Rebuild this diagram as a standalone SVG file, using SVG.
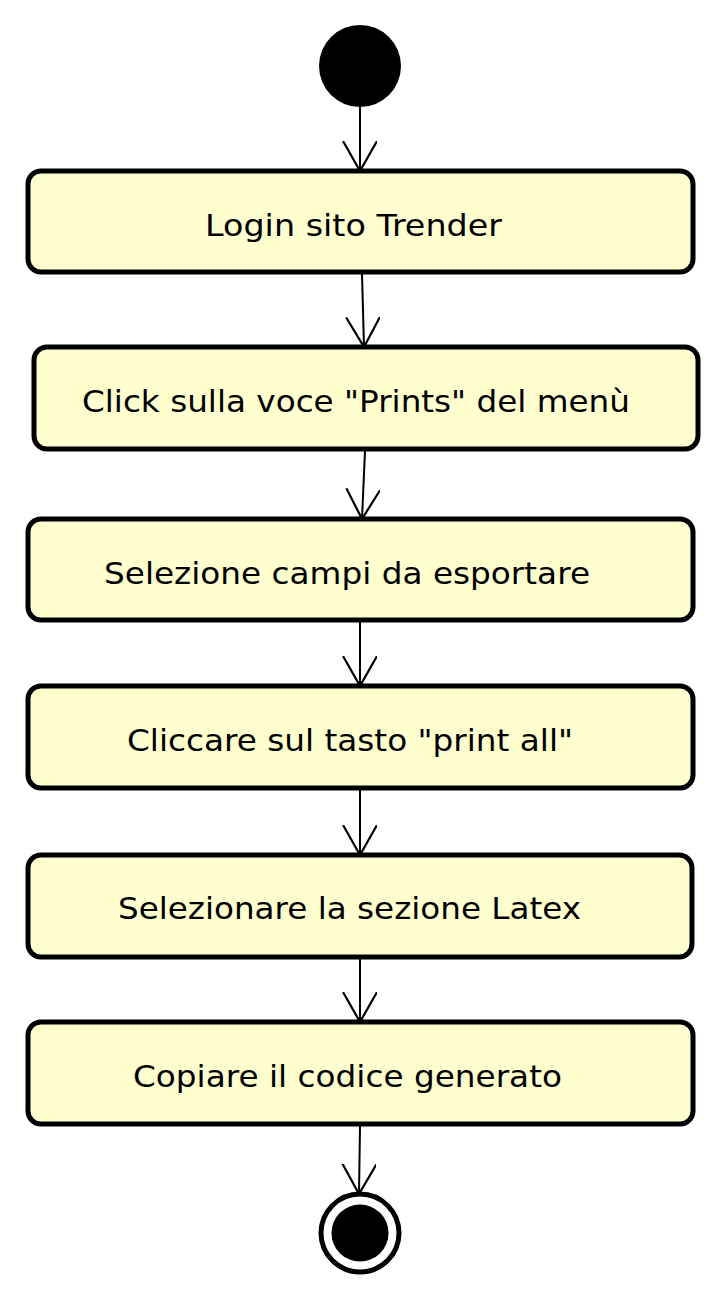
<svg xmlns="http://www.w3.org/2000/svg" width="727" height="1300" viewBox="0 0 727 1300">
<defs>
<style>
.box{fill:#FEFECE;stroke:#000;stroke-width:5}
.t{font-family:"DejaVu Sans",sans-serif;font-size:31px;fill:#000}
.c{stroke:#000;stroke-width:2;fill:none}
</style>
<marker id="ar" viewBox="0 0 40 40" refX="30" refY="17" markerWidth="40" markerHeight="40" markerUnits="userSpaceOnUse" orient="auto">
<path d="M0,0 L30,17 L0,34" fill="none" stroke="#000" stroke-width="2.2"/>
</marker>
</defs>
<rect width="727" height="1300" fill="#fff"/>
<g id="start"><circle cx="360" cy="66" r="41" fill="#000"/></g>
<g id="n1"><rect class="box" x="28" y="171" width="665" height="101" rx="13"/><text class="t" x="205" y="236" textLength="297" lengthAdjust="spacingAndGlyphs">Login sito Trender</text></g>
<g id="n2"><rect class="box" x="34" y="347" width="664" height="102" rx="13"/><text class="t" x="82" y="412" textLength="548" lengthAdjust="spacingAndGlyphs">Click sulla voce "Prints" del menù</text></g>
<g id="n3"><rect class="box" x="28" y="519" width="665" height="101" rx="13"/><text class="t" x="104" y="584" textLength="486" lengthAdjust="spacingAndGlyphs">Selezione campi da esportare</text></g>
<g id="n4"><rect class="box" x="28" y="686" width="665" height="102" rx="13"/><text class="t" x="127" y="751" textLength="446" lengthAdjust="spacingAndGlyphs">Cliccare sul tasto "print all"</text></g>
<g id="n5"><rect class="box" x="28" y="855" width="664" height="102" rx="13"/><text class="t" x="118" y="919" textLength="463" lengthAdjust="spacingAndGlyphs">Selezionare la sezione Latex</text></g>
<g id="n6"><rect class="box" x="28" y="1022" width="665" height="102" rx="13"/><text class="t" x="133" y="1087" textLength="429" lengthAdjust="spacingAndGlyphs">Copiare il codice generato</text></g>
<g id="end"><circle cx="360" cy="1233" r="39" fill="#fff" stroke="#000" stroke-width="5"/><circle cx="360" cy="1233" r="28.5" fill="#000"/></g>
<g id="connectors">
<line class="c" x1="360" y1="107" x2="360" y2="171" marker-end="url(#ar)"/>
<line class="c" x1="362" y1="274" x2="364" y2="347" marker-end="url(#ar)"/>
<line class="c" x1="365" y1="451" x2="362" y2="519" marker-end="url(#ar)"/>
<line class="c" x1="360" y1="622" x2="360" y2="686" marker-end="url(#ar)"/>
<line class="c" x1="360" y1="790" x2="360" y2="855" marker-end="url(#ar)"/>
<line class="c" x1="360" y1="959" x2="360" y2="1022" marker-end="url(#ar)"/>
<line class="c" x1="360" y1="1126" x2="359" y2="1194" marker-end="url(#ar)"/>
</g>
</svg>
